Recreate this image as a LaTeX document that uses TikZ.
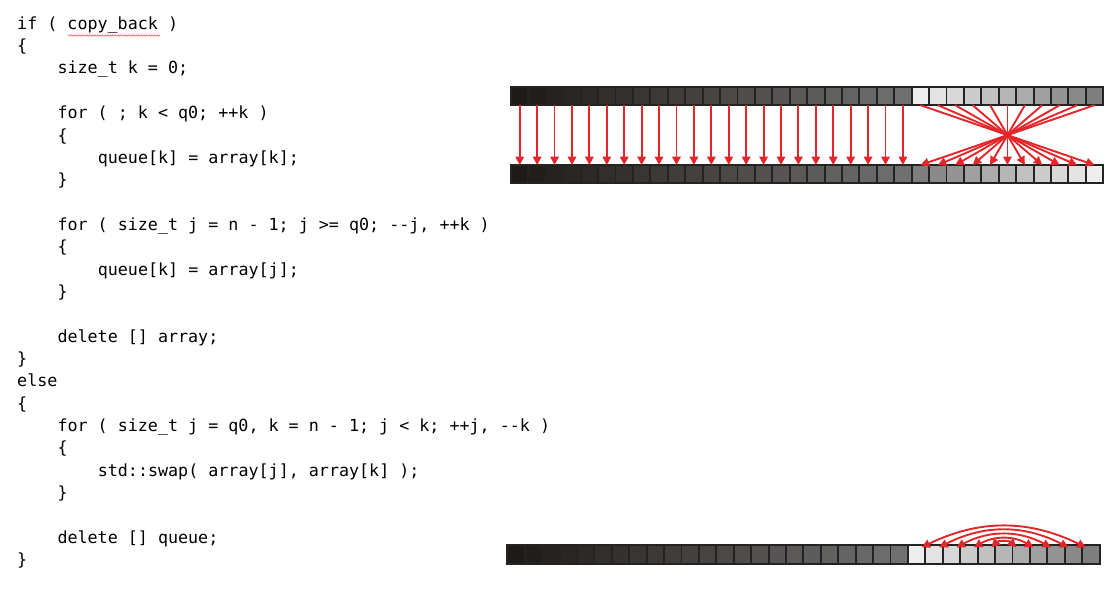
\documentclass[tikz,border=0pt]{standalone}
\usepackage{fontspec}
\setmonofont{DejaVu Sans Mono}
\usetikzlibrary{arrows.meta,decorations.pathmorphing}
\definecolor{cellfirst}{HTML}{1E1A17}
\definecolor{cellmid}{HTML}{707070}
\definecolor{celllight}{HTML}{EEEEEE}
\definecolor{celllast}{HTML}{7E7E7E}
\definecolor{cellline}{HTML}{252222}
\definecolor{arrowred}{HTML}{E3262A}
\definecolor{squigred}{HTML}{E06060}
\begin{document}
\begin{tikzpicture}[x=1pt,y=-1pt,
        code/.style={anchor=base west,inner sep=0pt,font=\ttfamily\fontsize{16.7}{22.35}\selectfont},
        cell/.style={draw=cellline,line width=1.9pt,minimum width=17.42pt,minimum height=18.3pt,inner sep=0pt,outer sep=0pt},
        copyarrow/.style={draw=arrowred,line width=1.9pt,-{Triangle[length=8.5pt,width=8.5pt]}},
        swaparrow/.style={draw=arrowred,line width=1.9pt,{Triangle[length=8.5pt,width=8.5pt]}-{Triangle[length=8.5pt,width=8.5pt]}}]
        \useasboundingbox (0,0) rectangle (1117,591);
        % the code
        \node[code] (code-1) at (17,29.3) {if ( copy\_back )};
        \node[code] (code-2) at (17,51.65) {\{};
        \node[code] (code-3) at (57.3,74) {size\_t k = 0;};
        \node[code] (code-5) at (57.3,118.7) {for ( ; k < q0; ++k )};
        \node[code] (code-6) at (57.3,141.05) {\{};
        \node[code] (code-7) at (97.6,163.4) {queue[k] = array[k];};
        \node[code] (code-8) at (57.3,185.75) {\}};
        \node[code] (code-10) at (57.3,230.45) {for ( size\_t j = n - 1; j >= q0; --j, ++k )};
        \node[code] (code-11) at (57.3,252.8) {\{};
        \node[code] (code-12) at (97.6,275.15) {queue[k] = array[j];};
        \node[code] (code-13) at (57.3,297.5) {\}};
        \node[code] (code-15) at (57.3,342.2) {delete [] array;};
        \node[code] (code-16) at (17,364.55) {\}};
        \node[code] (code-17) at (17,386.9) {else};
        \node[code] (code-18) at (17,409.25) {\{};
        \node[code] (code-19) at (57.3,431.6) {for ( size\_t j = q0, k = n - 1; j < k; ++j, --k )};
        \node[code] (code-20) at (57.3,453.95) {\{};
        \node[code] (code-21) at (97.6,476.3) {std::swap( array[j], array[k] );};
        \node[code] (code-22) at (57.3,498.65) {\}};
        \node[code] (code-24) at (57.3,543.35) {delete [] queue;};
        \node[code] (code-25) at (17,565.7) {\}};
        \coordinate (squig-a) at (68,35.5);
        \coordinate (squig-b) at (160,35.5);
        \draw[squigred,line width=0.6pt,decorate,decoration={snake,amplitude=0.7pt,segment length=2.6pt}] (squig-a) -- (squig-b);
        % the three arrays
        \foreach \i in {0,...,22} {
          \pgfmathtruncatemacro\p{round(\i*100/22)}
          \node[cell,fill=cellmid!\p!cellfirst] (top-\i) at ({519.7+17.42*\i},96) {};
          \node[cell,fill=cellmid!\p!cellfirst] (bot-\i) at ({519.7+17.42*\i},174.2) {};
          \node[cell,fill=cellmid!\p!cellfirst] (swp-\i) at ({516+17.42*\i},554.5) {};
        }
        \foreach \j in {0,...,10} {
          \pgfmathtruncatemacro\i{23+\j}
          \pgfmathtruncatemacro\q{\j*10}
          \pgfmathtruncatemacro\r{100-\j*10}
          \node[cell,fill=celllast!\q!celllight] (top-\i) at ({519.7+17.42*\i},96) {};
          \node[cell,fill=celllast!\r!celllight] (bot-\i) at ({519.7+17.42*\i},174.2) {};
          \node[cell,fill=celllast!\q!celllight] (swp-\i) at ({516+17.42*\i},554.5) {};
        }
        % copying
        \foreach \i in {0,...,22}
          \draw[copyarrow] (top-\i.south) -- (bot-\i.north);
        \foreach \j in {0,...,10} {
          \pgfmathtruncatemacro\a{23+\j}
          \pgfmathtruncatemacro\b{33-\j}
          \draw[copyarrow] (top-\a.south) -- (bot-\b.north);
        }
        % swapping
        \foreach \j/\bend in {0/26,1/27,2/28,3/30,4/45} {
          \pgfmathtruncatemacro\a{23+\j}
          \pgfmathtruncatemacro\b{33-\j}
          \draw[swaparrow] ([xshift=5pt,yshift=-2pt]swp-\a.north) to[bend left=\bend] ([xshift=-5pt,yshift=-2pt]swp-\b.north);
        }
\end{tikzpicture}
\end{document}
